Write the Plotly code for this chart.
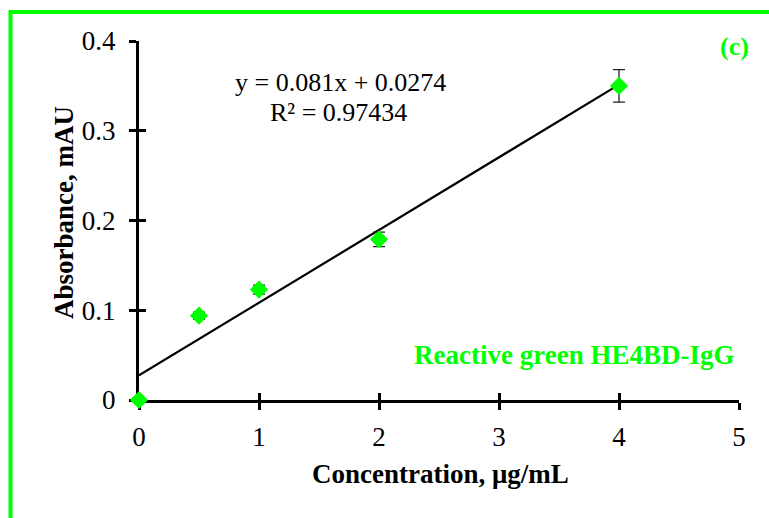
import plotly.graph_objects as go

# Data
conc = [0, 0.5, 1, 2, 4]
absorb = [0.0, 0.094, 0.123, 0.179, 0.350]
err = [0.0, 0.004, 0.005, 0.008, 0.018]
slope = 0.081
intercept = 0.0274
fit_x = [0, 4]
fit_y = [slope * v + intercept for v in fit_x]
x_ticks = [0, 1, 2, 3, 4, 5]
y_ticks = [0, 0.1, 0.2, 0.3, 0.4]
y_tick_text = ["0", "0.1", "0.2", "0.3", "0.4"]

GREEN = "#00FF00"
FONT = "Liberation Serif"

fig = go.Figure()
# dummy trace for overlay axes (inside ticks)
fig.add_trace(go.Scatter(x=[None], y=[None], xaxis="x2", yaxis="y2",
                         showlegend=False))
fig.add_trace(go.Scatter(x=fit_x, y=fit_y, mode="lines",
                         line=dict(color="black", width=2.2), showlegend=False,
                         hoverinfo="skip"))
fig.add_trace(go.Scatter(
    x=conc, y=absorb, mode="markers", cliponaxis=False,
    marker=dict(symbol="diamond", size=14, color=GREEN),
    error_y=dict(type="data", array=err, visible=True, color="#222222",
                 thickness=1.3, width=6),
    showlegend=False))

axis_common = dict(showgrid=False, zeroline=False, showline=True,
                   linecolor="black", linewidth=3, ticklen=7, tickwidth=2.5,
                   tickcolor="black", layer="below traces")
fig.update_layout(
    width=769, height=518,
    margin=dict(l=139, r=30, t=41, b=118),
    paper_bgcolor="white", plot_bgcolor="white",
    font=dict(family=FONT, color="black", size=27),
    xaxis=dict(range=[0, 5], tickvals=x_ticks, ticks="outside",
               tickfont=dict(size=27, family=FONT), ticklabelstandoff=4,
               **axis_common),
    yaxis=dict(range=[0, 0.4], tickvals=y_ticks, ticktext=y_tick_text,
               ticks="outside", tickfont=dict(size=27, family=FONT),
               ticklabelstandoff=8, **axis_common),
    xaxis2=dict(range=[0, 5], tickvals=x_ticks, ticks="inside",
                overlaying="x", showticklabels=False, **axis_common),
    yaxis2=dict(range=[0, 0.4], tickvals=y_ticks, ticks="inside",
                overlaying="y", showticklabels=False, **axis_common),
)

def px_x(p):
    return (p - 139) / 600

def px_y(p):
    return (400 - p) / 359

fig.add_annotation(text="<b>Concentration, μg/mL</b>", xref="paper", yref="paper",
                   x=px_x(440), y=px_y(474), xanchor="center", yanchor="middle",
                   showarrow=False, font=dict(size=27, family=FONT))
fig.add_annotation(text="<b>Absorbance, mAU</b>", xref="paper", yref="paper",
                   x=px_x(64), y=px_y(213), xanchor="center", yanchor="middle",
                   textangle=-90, showarrow=False, font=dict(size=27, family=FONT))
fig.add_annotation(text="y = 0.081x + 0.0274", xref="paper", yref="paper",
                   x=px_x(340), y=px_y(82), xanchor="center", yanchor="middle",
                   showarrow=False, font=dict(size=26, family=FONT))
fig.add_annotation(text="R² = 0.97434", xref="paper", yref="paper",
                   x=px_x(338), y=px_y(112), xanchor="center", yanchor="middle",
                   showarrow=False, font=dict(size=26, family=FONT))
fig.add_annotation(text="<b>Reactive green HE4BD-IgG</b>", xref="paper", yref="paper",
                   x=px_x(574), y=px_y(355), xanchor="center", yanchor="middle",
                   showarrow=False, font=dict(size=27, family=FONT, color=GREEN))
fig.add_annotation(text="<b>(c)</b>", xref="paper", yref="paper",
                   x=px_x(734), y=px_y(47), xanchor="center", yanchor="middle",
                   showarrow=False, font=dict(size=26, family=FONT, color=GREEN))

# green frame
fig.add_shape(type="rect", xref="paper", yref="paper",
              x0=px_x(10.5), x1=1.2, y0=-0.5, y1=px_y(12),
              line=dict(color=GREEN, width=4), layer="below")

fig.write_html("out.html")
